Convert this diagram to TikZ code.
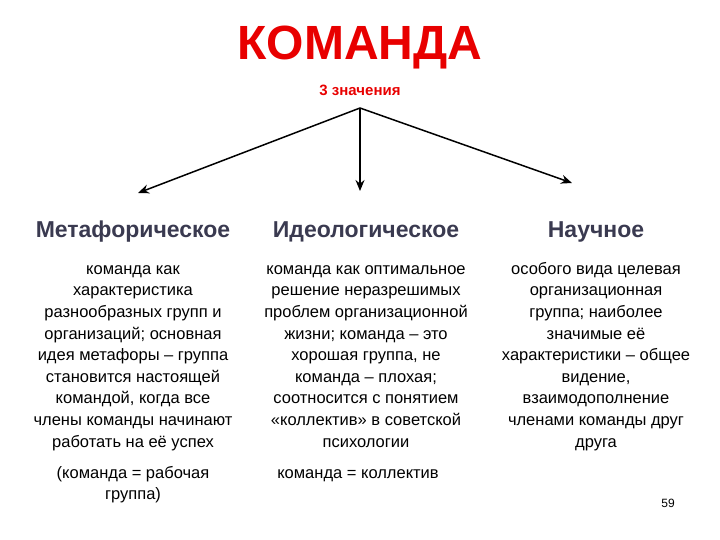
\documentclass[tikz,border=0pt]{standalone}
\usepackage{fontspec}
\setmainfont{Liberation Sans}
\usetikzlibrary{arrows.meta}
\definecolor{tred}{HTML}{E80000}
\definecolor{head}{HTML}{3A3A50}
\begin{document}
\begin{tikzpicture}[x=1pt,y=-1pt,
  body/.style={align=center,font=\fontsize{16.5}{21.6}\selectfont,inner sep=0pt,anchor=north},
  hd/.style={text=head,font=\bfseries\fontsize{23}{26}\selectfont,inner sep=0pt},
  arr/.style={-{Stealth[length=11pt,width=9pt]},line width=1.5pt}]
\useasboundingbox (0,0) rectangle (720,540);
\node[text=tred,font=\bfseries\fontsize{48}{52}\selectfont,inner sep=0pt] (title) at (360,48) {КОМАНДА};
\node[text=tred,font=\bfseries\fontsize{15}{18}\selectfont,inner sep=0pt] (sub) at (360,90) {3 значения};
\coordinate (o) at (360,108);
\coordinate (e1) at (138,193);
\coordinate (e2) at (360,191);
\coordinate (e3) at (572,183);
\draw[arr] (o) -- (e1);
\draw[arr] (o) -- (e2);
\draw[arr] (o) -- (e3);
\node[hd] (h1) at (133,232) {Метафорическое};
\node[hd] (h2) at (366,232) {Идеологическое};
\node[hd] (h3) at (596,232) {Научное};
\node[body] (b1) at (133,259) {\strut команда как\\характеристика\\разнообразных групп и\\организаций; основная\\идея метафоры – группа\\становится настоящей\\командой, когда все\\члены команды начинают\\работать на её успех};
\node[body] (b2) at (366,259) {\strut команда как оптимальное\\решение неразрешимых\\проблем организационной\\жизни; команда – это\\хорошая группа, не\\команда – плохая;\\соотносится с понятием\\«коллектив» в советской\\психологии};
\node[body] (b3) at (596,259) {\strut особого вида целевая\\организационная\\группа; наиболее\\значимые её\\характеристики – общее\\видение,\\взаимодополнение\\членами команды друг\\друга};
\node[body] (c1) at (133,463) {\strut(команда = рабочая\\группа)};
\node[body] (c2) at (358,463) {\strut команда = коллектив};
\node[font=\fontsize{12}{14}\selectfont,inner sep=0pt] (pg) at (668,503) {59};
\end{tikzpicture}
\end{document}
